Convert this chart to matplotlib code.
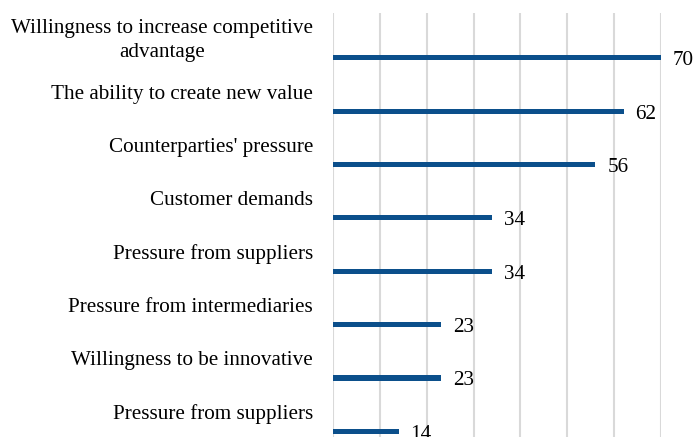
import matplotlib.pyplot as plt

labels = ["Willingness to increase competitive\nadvantage",
          "The ability to create new value",
          "Counterparties' pressure",
          "Customer demands",
          "Pressure from suppliers",
          "Pressure from intermediaries",
          "Willingness to be innovative",
          "Pressure from suppliers"]
values = [70, 62, 56, 34, 34, 23, 23, 14]

plt.rcParams['font.family'] = ['Liberation Serif', 'DejaVu Serif']

fig = plt.figure(figsize=(6.99, 4.37), dpi=100)
W, H = 699, 437
# axes placed in pixel terms: x 333..661, y 13..442
ax = fig.add_axes([333 / W, (H - 442) / H, (661 - 333) / W, (442 - 13) / H])

ypos = list(range(len(values)))
ax.barh(ypos, values, height=0.095, color='#0b4f8b', zorder=3)

ax.set_xlim(0, 70)
ax.set_ylim(7.2, -0.84)
ax.set_xticks(range(0, 71, 10))
ax.grid(axis='x', color='#d9d9d9', linewidth=1.5, zorder=0)
ax.tick_params(left=False, bottom=False, labelleft=False, labelbottom=False)
for s in ax.spines.values():
    s.set_visible(False)

for y, v, lab in zip(ypos, values, labels):
    ax.annotate(lab, (0, y), xytext=(-20, 17), textcoords='offset pixels',
                ha='right', va='center', multialignment='center',
                fontsize=15.2, linespacing=1.35)
    ax.annotate(str(v), (v, y), xytext=(12, -3), textcoords='offset pixels',
                ha='left', va='center', fontsize=15.2)

fig.savefig('out.png', dpi=100)
